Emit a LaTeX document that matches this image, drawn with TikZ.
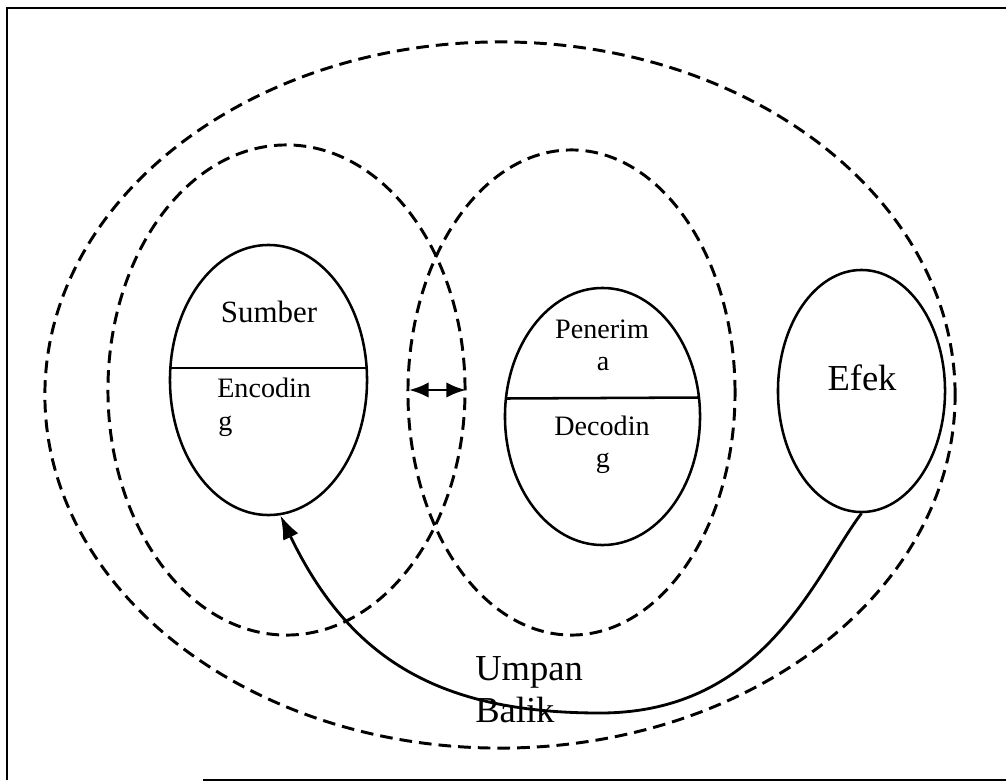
\documentclass[tikz,border=0pt]{standalone}
\usepackage{fontspec}
\setmainfont{Liberation Serif}
\usetikzlibrary{arrows.meta,shapes.geometric}
\begin{document}
\begin{tikzpicture}[x=0.025cm,y=-0.025cm,
  dashring/.style={ellipse, draw, dash pattern=on 9pt off 5pt, line width=2.1pt, inner sep=0pt},
  solidring/.style={ellipse, draw, line width=1.8pt, inner sep=0pt},
  frameline/.style={line width=2pt},
  divider/.style={line width=1.8pt},
  small/.style={inner sep=0pt, font=\fontsize{20}{24}\selectfont},
  mid/.style={inner sep=0pt, font=\fontsize{22}{26}\selectfont},
  big/.style={inner sep=0pt, font=\fontsize{26}{30}\selectfont},
  arr/.style={line width=2pt}]
\useasboundingbox (0,0) rectangle (1006,783);
% frame
\coordinate (tl) at (7,8);
\coordinate (tr) at (1006,8);
\coordinate (bl) at (7,780);
\coordinate (bm) at (203,780);
\coordinate (br) at (1006,780);
\draw[frameline] (tr) -- (tl) -- (bl);
\draw[frameline] (bm) -- (br);
% dashed rings
\node[dashring, minimum width=22.75cm, minimum height=17.65cm] (outer) at (500,395) {};
\node[dashring, minimum width=8.925cm, minimum height=12.25cm] (leftring) at (286.5,390) {};
\node[dashring, minimum width=8.175cm, minimum height=12.125cm] (midring) at (571.5,392.5) {};
% solid ellipses
\node[solidring, minimum width=4.925cm, minimum height=6.75cm] (sumber) at (268.5,380) {};
\node[solidring, minimum width=4.875cm, minimum height=6.425cm] (penerima) at (602.5,416.5) {};
\node[solidring, minimum width=4.175cm, minimum height=6.05cm] (efek) at (861.5,391) {};
% dividing lines
\coordinate (sl) at (170.6,368);
\coordinate (sr) at (366.4,368);
\coordinate (pl) at (506,398.5);
\coordinate (pr) at (699,397.5);
\draw[divider] (sl) -- (sr);
\draw[divider] (pl) -- (pr);
% texts
\node[mid, anchor=base] (tsumber) at (269,322) {Sumber};
\node[small, anchor=base west] (tenc1) at (217,397) {Encodin};
\node[small, anchor=base west] (tenc2) at (218,430) {g};
\node[small, anchor=base] (tpen1) at (602,338) {Penerim};
\node[small, anchor=base] (tpen2) at (603,370) {a};
\node[small, anchor=base] (tdec1) at (602,435) {Decodin};
\node[small, anchor=base] (tdec2) at (603,467) {g};
\node[big, anchor=base] (tefek) at (862,390) {Efek};
\node[big, anchor=base west] (tump) at (475,680) {Umpan};
\node[big, anchor=base west] (tbal) at (475,722) {Balik};
% double arrow
\coordinate (al) at (409,390);
\coordinate (ar) at (466,390);
\draw[arr, {Latex[length=14pt,width=11pt]}-{Latex[length=14pt,width=11pt]}] (al) -- (ar);
% feedback
\coordinate (fb) at (600,713);
\draw[arr, -{Latex[length=17pt,width=12pt]}] (efek.south) .. controls (815,575) and (765,713) .. (fb) .. controls (440,713) and (350,660) .. (sumber.-85);
\end{tikzpicture}
\end{document}
